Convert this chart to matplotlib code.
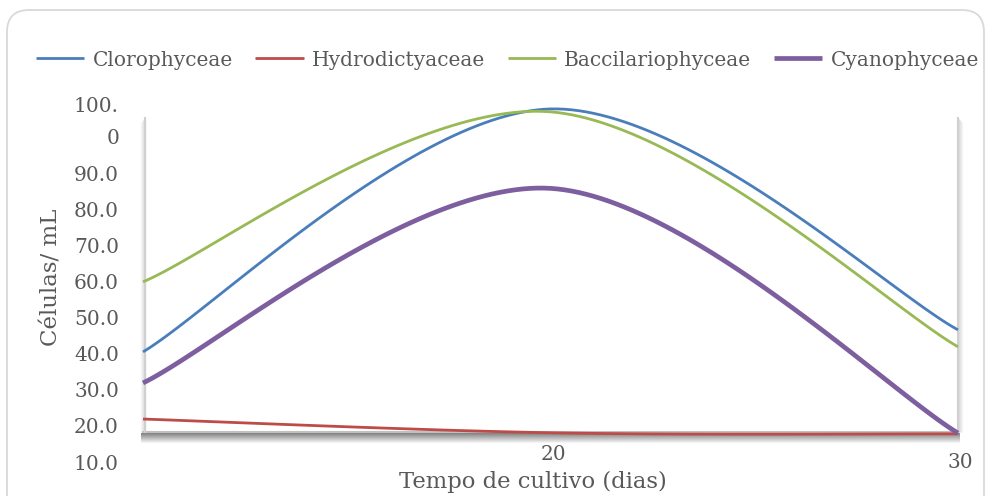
import numpy as np
import matplotlib
matplotlib.use("Agg")
import matplotlib.pyplot as plt
import matplotlib.patches as ptc
from matplotlib.transforms import IdentityTransform

# data
dias = [10, 20, 30]
clorophyceae = [40.5, 107.8, 46.6]
hydrodictyaceae = [21.9, 18.1, 17.8]
baccilariophyceae = [59.9, 107.0, 41.9]
cyanophyceae = [31.9, 85.8, 18.0]

series_names = ['Clorophyceae', 'Hydrodictyaceae', 'Baccilariophyceae', 'Cyanophyceae']
series_colors = ['#4A7EBB', '#BE4B48', '#98B954', '#7D5FA0']
series_widths = [2.0, 2.0, 2.0, 3.4]
yticks = [10, 20, 30, 40, 50, 60, 70, 80, 90]
xticks = [20, 30]

txt = '#595959'
fnt = 'DejaVu Serif'


def smooth(xs, ys, n=60):
    """excel-like smoothed line (catmull-rom as bezier)"""
    p = np.column_stack([xs, ys]).astype(float)
    ext = np.vstack([p[0], p, p[-1]])
    out = []
    for i in range(len(p) - 1):
        p0, p1 = ext[i + 1], ext[i + 2]
        c1 = p0 + (ext[i + 2] - ext[i]) / 6.0
        c2 = p1 - (ext[i + 3] - ext[i + 1]) / 6.0
        t = np.linspace(0, 1, n)[:, None]
        seg = ((1 - t) ** 3) * p0 + 3 * ((1 - t) ** 2) * t * c1 + 3 * (1 - t) * t ** 2 * c2 + t ** 3 * p1
        out.append(seg if i == 0 else seg[1:])
    out = np.vstack(out)
    return out[:, 0], out[:, 1]


fig = plt.figure(figsize=(9.85, 4.96), dpi=100)
W, H = 985, 496

# chart border
border = ptc.FancyBboxPatch((7, -30), 977, 516, boxstyle='round,pad=0,rounding_size=22',
                            transform=IdentityTransform(), facecolor='white',
                            edgecolor='#D9D9D9', linewidth=1.3, zorder=0)
fig.add_artist(border)

# axes: pixel 100..462 vertically, 143..958 horizontally
px_per = 3.61
top_px, bot_px = 100, 462
ax = fig.add_axes([143 / W, 1 - bot_px / H, (958 - 143) / W, (bot_px - top_px) / H])
ax.set_xlim(10, 30)
ax.set_ylim(10, 10 + (bot_px - top_px) / px_per)
ax.patch.set_visible(False)
for s in ax.spines.values():
    s.set_visible(False)

floor = 10 + (bot_px - 432) / px_per
wall_top = 10 + (bot_px - 118) / px_per
dx = 20 / (958 - 143)  # data x per pixel
dy = 1 / px_per

# floor shadow
for k in range(10):
    a = 0.8 * (1 - k / 10.0)
    ax.fill_between([10 - 2 * dx, 30 + 2 * dx], floor - (k + 2) * dy, floor - (k + 1) * dy,
                    color='#666666', alpha=a, linewidth=0, zorder=1, clip_on=False)
ax.plot([10, 30], [floor, floor], color='#C0C0C0', lw=1.5, zorder=2, clip_on=False)
# side walls with soft shadow
for xw, sgn in [(10 + 1.5 * dx, -1), (30 - 0.5 * dx, 1)]:
    for k in range(5):
        ax.plot([xw + sgn * k * dx, xw + sgn * k * dx], [floor, wall_top - k * dy],
                color='#A0A0A0', alpha=0.35 * (1 - k / 5.0), lw=1.0, zorder=1,
                solid_capstyle='butt', clip_on=False)
    ax.plot([xw, xw], [floor, wall_top], color='#D0D0D0', lw=1.5, zorder=2, clip_on=False)

for name, vals, col, lw in zip(series_names,
                                [clorophyceae, hydrodictyaceae, baccilariophyceae, cyanophyceae],
                                series_colors, series_widths):
    sx, sy = smooth(dias, vals)
    ax.plot(sx, sy, color=col, lw=lw, label=name, zorder=5, clip_on=False,
            solid_capstyle='butt')

ax.set_yticks(yticks)
ax.set_yticklabels(['%.1f' % v for v in yticks], fontfamily=fnt, fontsize=14.5, color=txt)
ax.text(10 - 24 * dx, 10 + (bot_px - 122.5) / px_per, '100.\n0', ha='right', va='center',
        fontfamily=fnt, fontsize=14.5, color=txt, linespacing=1.85)
ax.tick_params(axis='y', length=0, pad=17.3)
ax.set_xticks([])
ax.text(20 + 3 * dx, 10 + 7 / px_per, '20', ha='center', va='center', fontfamily=fnt,
        fontsize=14.5, color=txt)
ax.text(30 + 2 * dx, 10, '30', ha='center', va='center', fontfamily=fnt, fontsize=14.5,
        color=txt)

fig.text(533 / W, 1 - 482 / H, 'Tempo de cultivo (dias)', ha='center', va='center',
         fontfamily=fnt, fontsize=16.3, color=txt)
fig.text(52 / W, 1 - 277 / H, 'Células/ mL', ha='center', va='center', rotation=90,
         fontfamily=fnt, fontsize=16.5, color=txt)

leg = fig.legend(loc='center left', bbox_to_anchor=(36 / W, 1 - 60 / H), ncol=4,
                 frameon=False, borderpad=0, borderaxespad=0, handlelength=2.4,
                 handletextpad=0.4, columnspacing=1.13,
                 prop={'family': fnt, 'size': 14.5})
for t in leg.get_texts():
    t.set_color(txt)

fig.savefig('out.png', dpi=100)
